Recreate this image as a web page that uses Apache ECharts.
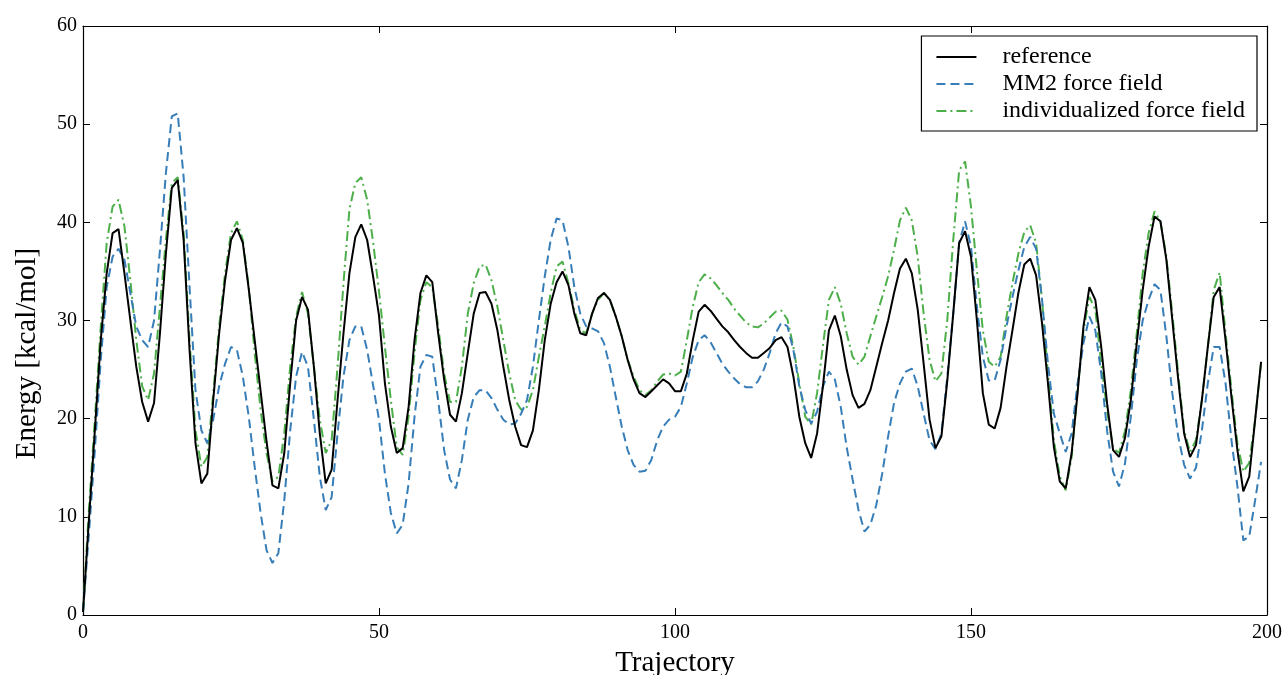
<!DOCTYPE html>
<html>
<head>
<meta charset="utf-8">
<script src="https://cdn.jsdelivr.net/npm/echarts@6/dist/echarts.min.js"></script>
<style>
  html, body { margin: 0; padding: 0; background: #fff; }
  #chart { width: 1285px; height: 675px; }
</style>
</head>
<body>
<div id="chart"></div>
<script>
// Energy along the trajectory (frames 0..199), kcal/mol
const referenceEnergy = [
  0.3, 9.7, 18.8, 28.0, 34.8, 38.9, 39.3, 34.8, 30.0, 25.3,
  21.7, 19.7, 21.6, 28.7, 36.8, 43.5, 44.3, 38.2, 27.0, 17.5,
  13.4, 14.4, 21.9, 28.7, 34.1, 38.2, 39.4, 37.9, 33.2, 28.0,
  22.8, 17.7, 13.2, 12.9, 16.5, 23.6, 30.0, 32.4, 31.1, 25.3,
  18.5, 13.4, 14.8, 21.9, 28.7, 34.8, 38.5, 39.8, 38.2, 34.5,
  30.5, 23.6, 19.2, 16.5, 17.0, 21.2, 28.0, 32.8, 34.6, 33.9,
  28.7, 24.0, 20.4, 19.7, 22.6, 26.7, 30.7, 32.8, 32.9, 31.7,
  29.0, 25.3, 21.9, 19.2, 17.3, 17.1, 18.8, 22.9, 28.0, 31.7,
  33.9, 35.0, 33.6, 30.7, 28.7, 28.5, 30.7, 32.3, 32.8, 32.1,
  30.4, 28.4, 26.0, 24.0, 22.6, 22.2, 22.8, 23.4, 24.0, 23.6,
  22.8, 22.8, 24.6, 28.0, 30.9, 31.6, 31.0, 30.2, 29.4, 28.8,
  28.0, 27.3, 26.7, 26.2, 26.2, 26.7, 27.2, 28.0, 28.3, 27.3,
  24.3, 20.2, 17.5, 16.0, 18.5, 23.4, 29.0, 30.5, 28.4, 25.0,
  22.4, 21.1, 21.5, 22.9, 25.3, 27.7, 30.0, 32.8, 35.3, 36.3,
  34.8, 31.1, 25.6, 19.9, 17.0, 18.2, 23.9, 30.7, 37.9, 39.1,
  36.5, 30.0, 22.6, 19.4, 19.0, 21.1, 25.3, 29.0, 32.8, 35.7,
  36.3, 34.6, 29.7, 23.6, 17.1, 13.6, 12.9, 16.5, 22.6, 29.4,
  33.4, 32.1, 27.3, 21.5, 16.8, 16.1, 18.0, 21.9, 27.7, 33.1,
  37.5, 40.6, 40.1, 36.2, 30.1, 24.0, 18.5, 16.1, 17.3, 21.9,
  27.3, 32.4, 33.4, 28.0, 22.2, 16.8, 12.6, 14.1, 19.9, 25.8
];

const mm2Energy = [
  0.3, 8.3, 16.8, 26.0, 33.4, 36.5, 37.3, 36.2, 32.8, 29.4,
  28.0, 27.3, 30.0, 37.2, 45.0, 50.8, 51.1, 44.6, 33.4, 22.9,
  18.8, 17.5, 19.9, 23.3, 25.6, 27.3, 27.0, 24.3, 20.2, 15.1,
  10.4, 6.6, 5.3, 6.3, 11.7, 18.8, 24.3, 26.8, 25.3, 19.9,
  14.1, 10.7, 12.0, 18.5, 24.3, 28.0, 29.4, 29.4, 27.0, 23.4,
  19.9, 14.4, 10.4, 8.3, 9.2, 13.4, 20.2, 25.3, 26.5, 26.3,
  21.9, 16.8, 13.8, 12.9, 15.8, 19.9, 22.2, 22.9, 22.9, 22.1,
  20.9, 19.9, 19.4, 19.5, 20.5, 21.9, 25.3, 30.0, 34.5, 38.2,
  40.4, 40.2, 37.5, 33.4, 30.7, 29.4, 29.2, 28.9, 27.7, 25.3,
  22.2, 19.2, 16.8, 15.3, 14.6, 14.7, 15.8, 17.8, 19.2, 19.9,
  20.2, 21.2, 23.6, 26.3, 28.0, 28.5, 27.8, 26.7, 25.6, 24.8,
  24.1, 23.5, 23.2, 23.2, 23.8, 25.0, 26.7, 28.7, 29.8, 29.4,
  27.0, 23.3, 20.9, 19.5, 20.7, 23.3, 24.8, 24.0, 21.2, 17.1,
  13.8, 10.7, 8.5, 9.2, 11.2, 14.4, 18.2, 21.6, 23.6, 24.8,
  25.1, 23.3, 20.5, 17.8, 16.9, 18.5, 24.3, 30.7, 37.9, 40.1,
  37.5, 31.4, 26.3, 23.9, 23.9, 26.0, 29.4, 32.4, 35.1, 37.5,
  38.5, 37.3, 32.1, 25.6, 20.5, 18.5, 16.6, 18.5, 23.6, 27.7,
  30.4, 29.0, 24.6, 18.7, 14.6, 13.1, 15.4, 20.2, 25.9, 30.0,
  32.1, 33.7, 33.1, 28.4, 22.6, 18.2, 15.3, 13.9, 15.0, 18.8,
  23.6, 27.3, 27.3, 23.6, 17.8, 13.1, 7.6, 8.0, 11.7, 15.6
];

const individualizedEnergy = [
  0.3, 10.7, 19.9, 29.4, 37.9, 41.6, 42.3, 39.6, 34.1, 28.0,
  23.3, 21.9, 24.6, 31.4, 38.2, 44.0, 44.6, 38.9, 28.0, 18.8,
  15.1, 16.1, 22.6, 29.4, 34.8, 38.9, 40.1, 38.2, 33.4, 26.7,
  20.9, 16.5, 13.6, 14.1, 18.5, 25.3, 30.4, 32.9, 30.7, 25.3,
  19.9, 16.5, 17.8, 25.3, 33.8, 41.3, 44.0, 44.6, 42.3, 38.0,
  33.0, 27.3, 21.9, 17.1, 16.3, 20.2, 26.7, 32.1, 33.9, 33.4,
  29.4, 24.6, 21.7, 21.7, 25.3, 30.7, 33.8, 35.5, 35.7, 34.1,
  31.4, 28.0, 24.6, 21.9, 20.9, 21.2, 22.9, 26.3, 29.4, 32.8,
  35.5, 36.0, 33.8, 31.1, 29.0, 28.7, 30.7, 32.1, 32.8, 32.1,
  30.4, 28.4, 26.0, 24.3, 22.9, 22.4, 22.9, 23.8, 24.5, 24.6,
  24.4, 24.8, 28.0, 31.4, 33.9, 34.7, 34.3, 33.6, 32.8, 32.1,
  31.2, 30.5, 29.8, 29.4, 29.3, 29.7, 30.3, 30.9, 31.0, 30.1,
  27.3, 23.6, 20.2, 19.4, 22.6, 27.5, 32.1, 33.4, 31.7, 28.7,
  26.3, 25.5, 26.3, 28.4, 30.4, 32.4, 34.5, 37.2, 40.2, 41.5,
  40.2, 36.5, 30.7, 26.0, 23.8, 24.6, 30.1, 38.2, 45.3, 46.2,
  41.6, 35.1, 29.0, 25.8, 25.3, 26.3, 30.4, 33.8, 36.8, 39.0,
  39.7, 37.9, 32.1, 24.6, 17.8, 14.1, 12.7, 16.1, 22.9, 29.0,
  32.4, 31.1, 25.6, 20.8, 17.0, 16.5, 18.7, 22.9, 28.7, 34.8,
  38.9, 41.1, 40.1, 36.5, 30.7, 24.6, 18.8, 16.6, 17.8, 21.9,
  27.3, 33.1, 34.9, 28.7, 22.9, 17.5, 14.6, 15.5, 19.9, 25.6
];

const seriesNames = ['reference', 'MM2 force field', 'individualized force field'];
const xTicks = { min: 0, max: 200, interval: 50 };
const yTicks = { min: 0, max: 60, interval: 10 };

const SERIF = '"Liberation Serif", "DejaVu Serif", serif';

function pairs(values) {
  return values.map((v, i) => [i, v]);
}

const chart = echarts.init(document.getElementById('chart'), null, { renderer: 'canvas' });

const frameLine = { show: true, onZero: false, lineStyle: { color: '#000', width: 1.2 } };
const innerTick = { show: true, inside: true, length: 7, lineStyle: { color: '#000', width: 1 } };

chart.setOption({
  animation: false,
  backgroundColor: '#fff',
  grid: { left: 83, right: 18, top: 26, bottom: 60, containLabel: false, outerBoundsMode: 'none' },
  legend: {
    data: seriesNames,
    orient: 'vertical',
    right: 28,
    top: 36,
    itemWidth: 40,
    itemHeight: 14,
    itemGap: 3,
    padding: [9, 12, 8, 14],
    borderColor: '#000',
    borderWidth: 1.2,
    backgroundColor: '#fff',
    // line samples only, no marker dot on them
    itemStyle: { opacity: 0, borderWidth: 0 },
    textStyle: { fontFamily: SERIF, fontSize: 24, lineHeight: 24, color: '#000', padding: [0, 0, 0, 21] }
  },
  xAxis: [
    {
      type: 'value', min: xTicks.min, max: xTicks.max, interval: xTicks.interval,
      position: 'bottom',
      name: 'Trajectory', nameLocation: 'middle', nameGap: 34,
      nameTextStyle: { fontFamily: SERIF, fontSize: 29, color: '#000' },
      axisLine: frameLine, axisTick: innerTick,
      axisLabel: { fontFamily: SERIF, fontSize: 20, color: '#000', margin: 8 },
      splitLine: { show: false }
    },
    {
      type: 'value', min: xTicks.min, max: xTicks.max, interval: xTicks.interval,
      position: 'top',
      axisLine: frameLine, axisTick: innerTick,
      axisLabel: { show: false }, splitLine: { show: false }
    }
  ],
  yAxis: [
    {
      type: 'value', min: yTicks.min, max: yTicks.max, interval: yTicks.interval,
      position: 'left',
      name: 'Energy [kcal/mol]', nameLocation: 'middle', nameGap: 41,
      nameTextStyle: { fontFamily: SERIF, fontSize: 29, color: '#000', padding: [0, 66, 0, 0] },
      axisLine: frameLine, axisTick: innerTick,
      axisLabel: { fontFamily: SERIF, fontSize: 20, color: '#000', margin: 6 },
      splitLine: { show: false }
    },
    {
      type: 'value', min: yTicks.min, max: yTicks.max, interval: yTicks.interval,
      position: 'right',
      axisLine: frameLine, axisTick: innerTick,
      axisLabel: { show: false }, splitLine: { show: false }
    }
  ],
  series: [
    {
      name: seriesNames[0], type: 'line', data: pairs(referenceEnergy),
      showSymbol: false, symbol: 'none', smooth: false, z: 4,
      lineStyle: { color: '#000000', width: 2, type: 'solid' },
      itemStyle: { color: '#000000' }
    },
    {
      name: seriesNames[1], type: 'line', data: pairs(mm2Energy),
      showSymbol: false, symbol: 'none', smooth: false, z: 3,
      lineStyle: { color: '#377eb8', width: 2, type: [9, 5] },
      itemStyle: { color: '#377eb8' }
    },
    {
      name: seriesNames[2], type: 'line', data: pairs(individualizedEnergy),
      showSymbol: false, symbol: 'none', smooth: false, z: 2,
      lineStyle: { color: '#4daf4a', width: 2, type: [10, 4, 2, 4] },
      itemStyle: { color: '#4daf4a' }
    }
  ]
});
</script>
</body>
</html>
